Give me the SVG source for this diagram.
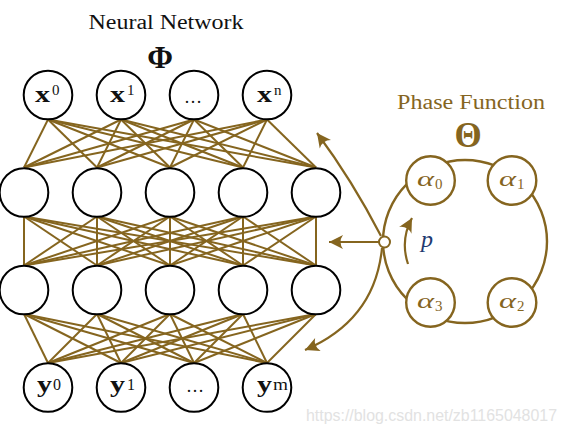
<svg xmlns="http://www.w3.org/2000/svg" width="566" height="437" viewBox="0 0 566 437">
<style>
.nn{fill:#fff;stroke:#000;stroke-width:2}
.ph{fill:#fff;stroke:#85651f;stroke-width:2.4}
.cn line{stroke:#85651f;stroke-width:2}
.arr{fill:none;stroke:#85651f;stroke-width:2.2}
.lbl{font-family:"Liberation Serif",serif;fill:#111}
.bx{font-weight:bold;font-size:23px}
.sup{font-size:15px}
.al{font-family:"Liberation Serif",serif;fill:#85651f;font-style:italic;font-size:22px}
.as{font-family:"Liberation Serif",serif;fill:#85651f;font-size:15px}
</style>
<defs>
<marker id="ah" viewBox="-15 -8 16 16" markerWidth="16" markerHeight="16" refX="0" refY="0" orient="auto" markerUnits="userSpaceOnUse">
<path d="M0,0 L-14,-7 Q-9,0 -14,7 Z" fill="#85651f"/>
</marker>
</defs>
<rect width="566" height="437" fill="#fff"/>
<text x="166" y="29" text-anchor="middle" font-family="Liberation Serif,serif" font-size="20" fill="#111" textLength="155" lengthAdjust="spacingAndGlyphs">Neural Network</text>
<text x="160" y="68" text-anchor="middle" font-family="Liberation Serif,serif" font-size="31" font-weight="bold" fill="#111">Φ</text>
<text x="471" y="109" text-anchor="middle" font-family="Liberation Serif,serif" font-size="20" fill="#85651f" textLength="148" lengthAdjust="spacingAndGlyphs">Phase Function</text>
<text x="468" y="147" text-anchor="middle" font-family="Liberation Serif,serif" font-size="35" font-weight="bold" fill="#85651f">Θ</text>
<g id="connectors" class="cn">
<line x1="48" y1="119.5" x2="24" y2="167.5"/><line x1="48" y1="119.5" x2="97" y2="167.5"/><line x1="48" y1="119.5" x2="170" y2="167.5"/><line x1="48" y1="119.5" x2="243" y2="167.5"/><line x1="48" y1="119.5" x2="316" y2="167.5"/>
<line x1="121" y1="119.5" x2="24" y2="167.5"/><line x1="121" y1="119.5" x2="97" y2="167.5"/><line x1="121" y1="119.5" x2="170" y2="167.5"/><line x1="121" y1="119.5" x2="243" y2="167.5"/><line x1="121" y1="119.5" x2="316" y2="167.5"/>
<line x1="194" y1="119.5" x2="24" y2="167.5"/><line x1="194" y1="119.5" x2="97" y2="167.5"/><line x1="194" y1="119.5" x2="170" y2="167.5"/><line x1="194" y1="119.5" x2="243" y2="167.5"/><line x1="194" y1="119.5" x2="316" y2="167.5"/>
<line x1="267" y1="119.5" x2="24" y2="167.5"/><line x1="267" y1="119.5" x2="97" y2="167.5"/><line x1="267" y1="119.5" x2="170" y2="167.5"/><line x1="267" y1="119.5" x2="243" y2="167.5"/><line x1="267" y1="119.5" x2="316" y2="167.5"/>
<line x1="24" y1="216.5" x2="24" y2="265.5"/><line x1="24" y1="216.5" x2="97" y2="265.5"/><line x1="24" y1="216.5" x2="170" y2="265.5"/><line x1="24" y1="216.5" x2="243" y2="265.5"/><line x1="24" y1="216.5" x2="316" y2="265.5"/>
<line x1="97" y1="216.5" x2="24" y2="265.5"/><line x1="97" y1="216.5" x2="97" y2="265.5"/><line x1="97" y1="216.5" x2="170" y2="265.5"/><line x1="97" y1="216.5" x2="243" y2="265.5"/><line x1="97" y1="216.5" x2="316" y2="265.5"/>
<line x1="170" y1="216.5" x2="24" y2="265.5"/><line x1="170" y1="216.5" x2="97" y2="265.5"/><line x1="170" y1="216.5" x2="170" y2="265.5"/><line x1="170" y1="216.5" x2="243" y2="265.5"/><line x1="170" y1="216.5" x2="316" y2="265.5"/>
<line x1="243" y1="216.5" x2="24" y2="265.5"/><line x1="243" y1="216.5" x2="97" y2="265.5"/><line x1="243" y1="216.5" x2="170" y2="265.5"/><line x1="243" y1="216.5" x2="243" y2="265.5"/><line x1="243" y1="216.5" x2="316" y2="265.5"/>
<line x1="316" y1="216.5" x2="24" y2="265.5"/><line x1="316" y1="216.5" x2="97" y2="265.5"/><line x1="316" y1="216.5" x2="170" y2="265.5"/><line x1="316" y1="216.5" x2="243" y2="265.5"/><line x1="316" y1="216.5" x2="316" y2="265.5"/>
<line x1="24" y1="314" x2="48" y2="363"/><line x1="24" y1="314" x2="121" y2="363"/><line x1="24" y1="314" x2="194" y2="363"/><line x1="24" y1="314" x2="267" y2="363"/>
<line x1="97" y1="314" x2="48" y2="363"/><line x1="97" y1="314" x2="121" y2="363"/><line x1="97" y1="314" x2="194" y2="363"/><line x1="97" y1="314" x2="267" y2="363"/>
<line x1="170" y1="314" x2="48" y2="363"/><line x1="170" y1="314" x2="121" y2="363"/><line x1="170" y1="314" x2="194" y2="363"/><line x1="170" y1="314" x2="267" y2="363"/>
<line x1="243" y1="314" x2="48" y2="363"/><line x1="243" y1="314" x2="121" y2="363"/><line x1="243" y1="314" x2="194" y2="363"/><line x1="243" y1="314" x2="267" y2="363"/>
<line x1="316" y1="314" x2="48" y2="363"/><line x1="316" y1="314" x2="121" y2="363"/><line x1="316" y1="314" x2="194" y2="363"/><line x1="316" y1="314" x2="267" y2="363"/>
<path class="arr" d="M381,236 Q352,180 317,133" marker-end="url(#ah)"/>
<path class="arr" d="M379,242 L329,242" marker-end="url(#ah)"/>
<path class="arr" d="M382,248 Q375,320 305,350" marker-end="url(#ah)"/>
<path class="arr" d="M408,264 Q400,240 412,218" marker-end="url(#ah)" stroke-width="2.6"/>
<ellipse cx="465" cy="241.5" rx="82" ry="81.5" fill="none" stroke="#85651f" stroke-width="2.4"/>
</g>
<g id="x0"><circle class="nn" cx="48" cy="95" r="24.3"/><text class="lbl bx" x="35" y="102" textLength="15" lengthAdjust="spacingAndGlyphs">x</text><text class="lbl sup" x="52" y="95">0</text></g>
<g id="x1"><circle class="nn" cx="121" cy="95" r="24.3"/><text class="lbl bx" x="110" y="102" textLength="15" lengthAdjust="spacingAndGlyphs">x</text><text class="lbl sup" x="127" y="95">1</text></g>
<g id="xdots"><circle class="nn" cx="194" cy="95" r="24.3"/><text class="lbl" x="193" y="103" font-size="18" text-anchor="middle">…</text></g>
<g id="xn"><circle class="nn" cx="267" cy="95" r="24.3"/><text class="lbl bx" x="257" y="102" textLength="15" lengthAdjust="spacingAndGlyphs">x</text><text class="lbl sup" x="274" y="95">n</text></g>
<g id="h1a"><circle class="nn" cx="24" cy="192.5" r="24.3"/></g>
<g id="h1b"><circle class="nn" cx="97" cy="192.5" r="24.3"/></g>
<g id="h1c"><circle class="nn" cx="170" cy="192.5" r="24.3"/></g>
<g id="h1d"><circle class="nn" cx="243" cy="192.5" r="24.3"/></g>
<g id="h1e"><circle class="nn" cx="316" cy="192.5" r="24.3"/></g>
<g id="h2a"><circle class="nn" cx="24" cy="290" r="24.3"/></g>
<g id="h2b"><circle class="nn" cx="97" cy="290" r="24.3"/></g>
<g id="h2c"><circle class="nn" cx="170" cy="290" r="24.3"/></g>
<g id="h2d"><circle class="nn" cx="243" cy="290" r="24.3"/></g>
<g id="h2e"><circle class="nn" cx="316" cy="290" r="24.3"/></g>
<g id="y0"><circle class="nn" cx="48" cy="387.5" r="24.3"/><text class="lbl bx" x="37" y="392" textLength="15" lengthAdjust="spacingAndGlyphs">y</text><text class="lbl" font-size="16" x="53" y="390">0</text></g>
<g id="y1"><circle class="nn" cx="121" cy="387.5" r="24.3"/><text class="lbl bx" x="110" y="392" textLength="15" lengthAdjust="spacingAndGlyphs">y</text><text class="lbl" font-size="16" x="127" y="390">1</text></g>
<g id="ydots"><circle class="nn" cx="194" cy="387.5" r="24.3"/><text class="lbl" x="195" y="392" font-size="18" text-anchor="middle">…</text></g>
<g id="ym"><circle class="nn" cx="267" cy="387.5" r="24.3"/><text class="lbl bx" x="257" y="392" textLength="15" lengthAdjust="spacingAndGlyphs">y</text><text class="lbl" font-size="16" x="273" y="390" textLength="15" lengthAdjust="spacingAndGlyphs">m</text></g>
<g id="phase-junction"><circle cx="384.5" cy="242" r="5.5" fill="#fff" stroke="#85651f" stroke-width="2"/></g>
<g id="a0"><circle class="ph" cx="430.5" cy="180.5" r="24.3"/><text class="al" x="417" y="186" textLength="17" lengthAdjust="spacingAndGlyphs">α</text><text class="as" x="435" y="189">0</text></g>
<g id="a1"><circle class="ph" cx="512" cy="180.5" r="24.3"/><text class="al" x="499" y="186" textLength="17" lengthAdjust="spacingAndGlyphs">α</text><text class="as" x="517" y="189">1</text></g>
<g id="a2"><circle class="ph" cx="512" cy="302.5" r="24.3"/><text class="al" x="499" y="308" textLength="17" lengthAdjust="spacingAndGlyphs">α</text><text class="as" x="517" y="311">2</text></g>
<g id="a3"><circle class="ph" cx="430.5" cy="302.5" r="24.3"/><text class="al" x="417" y="308" textLength="17" lengthAdjust="spacingAndGlyphs">α</text><text class="as" x="435" y="311">3</text></g>
<text x="421" y="247" font-family="Liberation Serif,serif" font-style="italic" font-size="24" fill="#223a70">p</text>
<text x="306" y="421" font-family="Liberation Sans,sans-serif" font-size="16" fill="#e2e2e2" textLength="251" lengthAdjust="spacingAndGlyphs">https://blog.csdn.net/zb1165048017</text>
</svg>
